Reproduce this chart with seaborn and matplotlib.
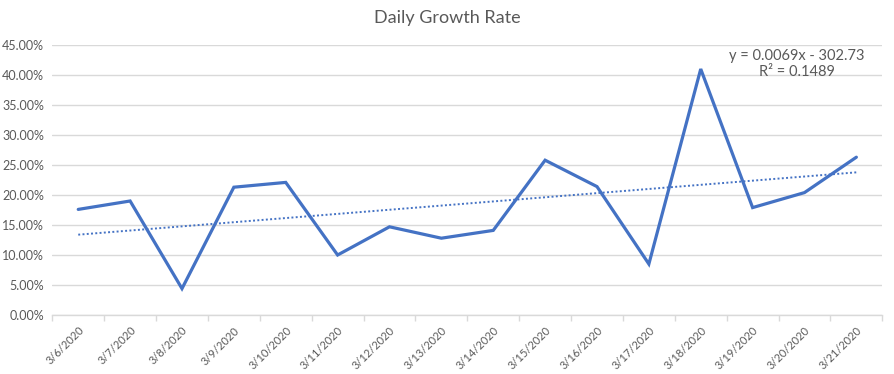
import numpy as np
import pandas as pd
import matplotlib
matplotlib.use("Agg")
import matplotlib.pyplot as plt
import seaborn as sns

dates = ["3/6/2020", "3/7/2020", "3/8/2020", "3/9/2020", "3/10/2020", "3/11/2020",
         "3/12/2020", "3/13/2020", "3/14/2020", "3/15/2020", "3/16/2020", "3/17/2020",
         "3/18/2020", "3/19/2020", "3/20/2020", "3/21/2020"]
growth = [0.176, 0.190, 0.044, 0.213, 0.221, 0.100, 0.147, 0.128,
          0.141, 0.258, 0.214, 0.085, 0.410, 0.179, 0.204, 0.263]
yticks = [0.0, 0.05, 0.10, 0.15, 0.20, 0.25, 0.30, 0.35, 0.40, 0.45]
title = "Daily Growth Rate"
eq_text = "y = 0.0069x - 302.73\nR² = 0.1489"

sns.set_theme(style="white")
plt.rcParams['font.family'] = ['Lato', 'DejaVu Sans']

df = pd.DataFrame({"idx": np.arange(len(dates)), "rate": growth})
coef = np.polyfit(df["idx"], df["rate"], 1)
df["trend"] = np.polyval(coef, df["idx"])

fig = plt.figure(figsize=(8.94, 3.74), dpi=100)
ax = fig.add_axes([52.3 / 894, 1 - 315 / 374, (882.3 - 52.3) / 894, 270 / 374])

blue = "#4472C4"
grey_txt = "#595959"
sns.lineplot(data=df, x="idx", y="trend", ax=ax, color=blue, linewidth=1.4,
             linestyle=(0, (1, 1.2)), zorder=3)
sns.lineplot(data=df, x="idx", y="rate", ax=ax, color=blue, linewidth=2.3,
             zorder=4, solid_joinstyle="miter")

ax.set_xlim(-0.5, len(dates) - 0.5)
ax.set_ylim(0, 0.45)
ax.set_yticks(yticks)
ax.set_yticklabels([f"{v*100:.2f}%" for v in yticks], fontsize=9, color=grey_txt)
ax.yaxis.grid(True, color="#d9d9d9", linewidth=1)
ax.set_axisbelow(True)
ax.tick_params(axis="y", length=0, pad=6)

ax.set_xticks(np.arange(len(dates)))
ax.set_xticklabels(dates, rotation=45, ha="right", va="top", rotation_mode="anchor",
                   fontsize=8, color=grey_txt)
ax.set_xticks(np.arange(len(dates) + 1) - 0.5, minor=True)
ax.tick_params(axis="x", which="major", length=0, pad=7)
ax.tick_params(axis="x", which="minor", length=4, color="#d9d9d9", width=1, direction="out", bottom=True)

for s in ["top", "right", "left"]:
    ax.spines[s].set_visible(False)
ax.spines["bottom"].set_color("#d9d9d9")
ax.spines["bottom"].set_linewidth(1)
ax.set_xlabel("")
ax.set_ylabel("")

fig.text(447 / 894, 1 - 18 / 374, title, ha="center", va="center", fontsize=13, color=grey_txt)
fig.text(797 / 894, 1 - 64 / 374, eq_text, ha="center", va="center", fontsize=10.5,
         color=grey_txt, linespacing=1.25)

fig.savefig("out.png", dpi=100)
